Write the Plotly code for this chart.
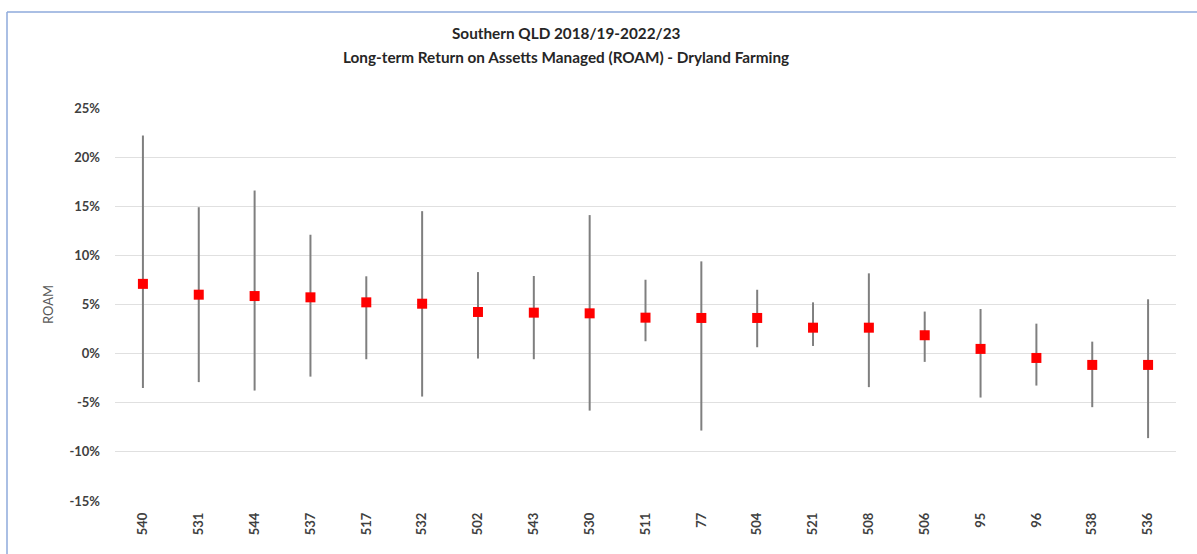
import plotly.graph_objects as go

# Farm IDs ordered by long-term ROAM
farms = ["540", "531", "544", "537", "517", "532", "502", "543", "530", "511",
         "77", "504", "521", "508", "506", "95", "96", "538", "536"]

# Average ROAM and annual range (%), 2018/19-2022/23
roam_avg = [7.1, 6.0, 5.86, 5.73, 5.22, 5.08, 4.24, 4.17, 4.1, 3.66,
            3.63, 3.63, 2.64, 2.64, 1.87, 0.48, -0.44, -1.15, -1.15]
roam_max = [22.2, 14.9, 16.6, 12.1, 7.87, 14.5, 8.3, 7.9, 14.1, 7.52,
            9.39, 6.5, 5.22, 8.17, 4.28, 4.54, 3.05, 1.22, 5.53]
roam_min = [-3.5, -2.9, -3.76, -2.34, -0.57, -4.37, -0.5, -0.57, -5.8, 1.26,
            -7.83, 0.65, 0.78, -3.41, -0.84, -4.47, -3.25, -5.45, -8.6]

y_ticks = [-0.15, -0.10, -0.05, 0.0, 0.05, 0.10, 0.15, 0.20, 0.25]
y_tick_text = ["-15%", "-10%", "-5%", "0%", "5%", "10%", "15%", "20%", "25%"]

title_lines = ["Southern QLD 2018/19-2022/23",
               "Long-term Return on Assetts Managed (ROAM) - Dryland Farming"]

avg = [v / 100 for v in roam_avg]
hi = [(h - a) / 100 for h, a in zip(roam_max, roam_avg)]
lo = [(a - l) / 100 for a, l in zip(roam_avg, roam_min)]

W, H = 1197, 554
ML, MR, MT, MB = 115, 21, 108, 53

fig = go.Figure(
    go.Scatter(
        x=farms,
        y=avg,
        mode="markers",
        marker=dict(symbol="square", size=10, color="#ff0000"),
        error_y=dict(
            type="data",
            symmetric=False,
            array=hi,
            arrayminus=lo,
            width=0,
            thickness=2,
            color="#7f7f7f",
        ),
        showlegend=False,
    )
)

# Pixel -> paper helpers for the frame lines and title
def px_x(p):
    return (p - ML) / (W - ML - MR)

def px_y(p):
    return (H - MB - p) / (H - MT - MB)

frame_color = "#8eaadb"
fig.add_shape(type="line", xref="paper", yref="paper",
              x0=px_x(7), x1=px_x(7), y0=px_y(12), y1=px_y(H + 2),
              line=dict(color=frame_color, width=1.5))
fig.add_shape(type="line", xref="paper", yref="paper",
              x0=px_x(7), x1=px_x(W + 2), y0=px_y(12), y1=px_y(12),
              line=dict(color=frame_color, width=1.5))

for line, ypix in zip(title_lines, [33, 57]):
    fig.add_annotation(
        text=f"<b>{line}</b>",
        xref="paper", yref="paper",
        x=px_x(566), y=px_y(ypix),
        xanchor="center", yanchor="middle",
        showarrow=False,
        font=dict(family="Lato", size=15.3, color="#262626"),
    )

fig.update_layout(
    width=W,
    height=H,
    margin=dict(l=ML, r=MR, t=MT, b=MB, autoexpand=False),
    paper_bgcolor="white",
    plot_bgcolor="white",
    font=dict(family="Lato", color="#404040"),
    xaxis=dict(
        type="category",
        range=[-0.5, len(farms) - 0.5],
        tickangle=-90,
        tickfont=dict(family="Lato", size=13, color="#404040", weight="bold"),
        showgrid=False,
        showline=False,
        zeroline=False,
        ticks="",
        ticklabelstandoff=8,
        automargin=False,
    ),
    yaxis=dict(
        range=[-0.15, 0.25],
        tickvals=y_ticks,
        ticktext=y_tick_text,
        tickfont=dict(family="Lato", size=13, color="#404040", weight="bold"),
        showgrid=True,
        gridcolor="#e0e0e0",
        gridwidth=1,
        zeroline=False,
        showline=False,
        ticks="",
        ticklabelstandoff=14,
        automargin=False,
        title=dict(text="ROAM", font=dict(family="Lato", size=13, color="#595959"), standoff=12),
    ),
)

fig.write_html("out.html")
